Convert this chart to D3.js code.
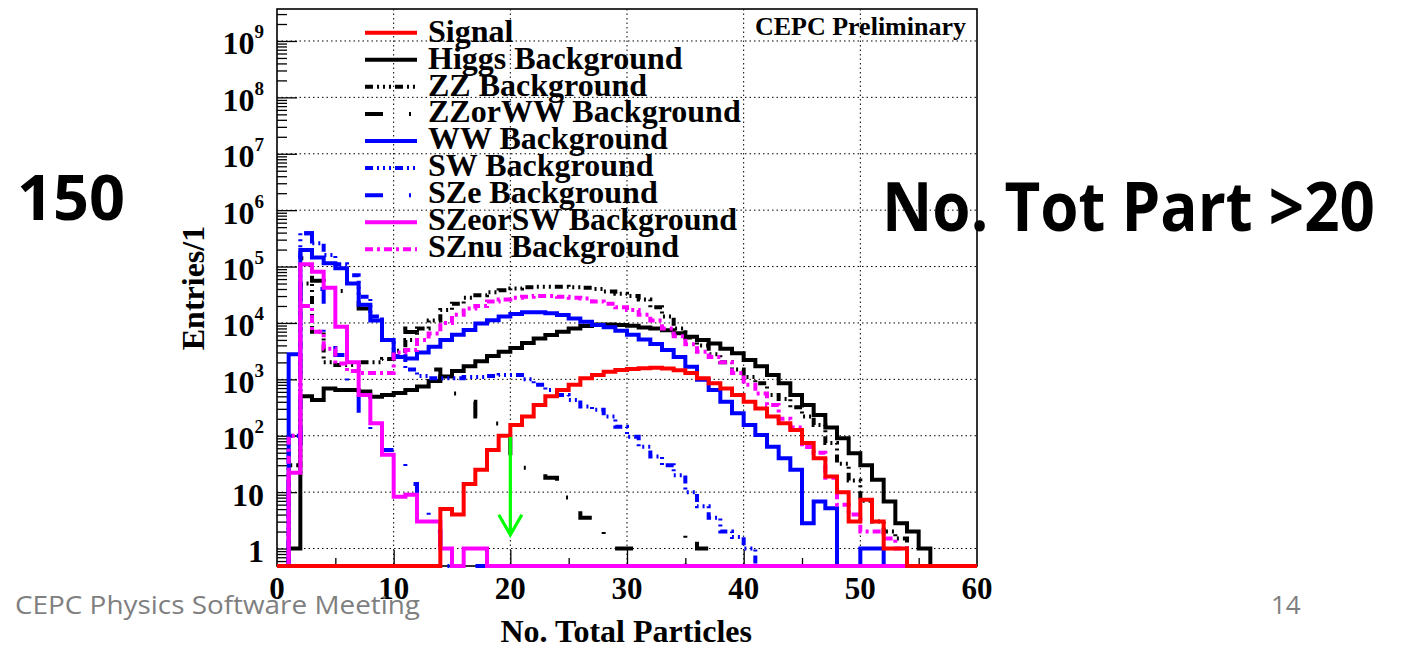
<!DOCTYPE html>
<html><head><meta charset="utf-8">
<script src="https://cdn.jsdelivr.net/npm/d3@7/dist/d3.min.js"></script>
<style>html,body{margin:0;padding:0;background:#fff;} svg{display:block;}</style>
</head><body>
<svg id="c" width="1409" height="649"></svg>
<script>
// ---------------- data (bin contents, bins of width 1 from 0 to 60) ----------------
const binEdges = d3.range(0, 61);
const signal   = [0,0,0,0,0,0,0,0,0,0,0,0,0,0,5,4,14,25,56,100,155,220,350,500,650,800,1050,1200,1370,1470,1520,1580,1600,1550,1450,1290,1050,850,690,530,400,305,220,166,126,74,40,19,10,3,7.3,3,1,1,0,0,0,0,0,0];
const higgs    = [0,1,500,430,690,650,650,610,490,530,570,650,750,930,1120,1400,1700,2100,2600,3100,3600,4400,5300,6100,7000,8000,8800,9400,9400,9200,8900,8300,8000,7400,6600,5700,5000,4300,3500,2900,2200,1700,1200,850,530,350,233,140,90,49,30,16.5,6.8,2.8,2,1,0,0,0,0];
const zz       = [0,30,50000,7000,2000,1800,1800,2000,2000,2300,3200,5000,8000,11000,17000,22000,28000,31000,35000,38000,41000,43000,44000,44000,44000,43000,42000,40000,36000,33000,30000,26000,19000,13000,8000,5500,4000,2800,2000,1500,1100,850,530,450,320,220,155,74,32,16,7,3,2,1.5,0,0,0,0,0,0];
const zzorww   = [0,20,140000,56000,37000,37000,25000,18000,16000,10000,8000,6900,3500,1500,800,560,400,220,165,110,40,27,27,18,8,6,3.5,2.2,1,1,1,0,0,0,0,2,1,0,0,0,0,0,0,0,0,0,0,0,0,0,0,0,0,0,0,0,0,0,0,0];
const ww       = [0,2800,196000,145000,114000,93000,50000,21000,11000,5000,2500,2350,3000,3800,5000,6150,7500,9800,11200,13000,14400,15500,15500,14800,13800,12000,10500,9200,8400,7300,6150,5100,4250,3300,2500,1670,980,650,400,250,155,103,64,40,25,2.8,6.8,5.2,0,0,1,1,0,0,0,0,0,0,0,0];
const sw       = [0,100,390000,260000,160000,110000,70000,29000,13000,5000,2600,1500,1150,1050,1050,1050,1100,1100,1150,1200,1200,1000,800,650,530,430,330,290,220,145,96,64,43,30,20,10,5.6,3.5,2,1.6,1,0,0,0,0,0,0,0,0,0,0,0,0,0,0,0,0,0,0,0];
const sze      = [0,60,390000,40000,6600,2700,800,220,96,56,40,14,4.8,2,0,0,0,0,0,0,0,0,0,0,0,0,0,0,0,0,0,0,0,0,0,0,0,0,0,0,0,0,0,0,0,0,0,0,0,0,0,0,0,0,0,0,0,0,0,0];
const szeorsw  = [0,22,110000,81000,42000,8600,2000,530,166,46,8.3,9,3,3,1,0,1,1,0,0,0,0,0,0,0,0,0,0,0,0,0,0,0,0,0,0,0,0,0,0,0,0,0,0,0,0,0,0,0,0,0,0,0,0,0,0,0,0,0,0];
const sznu     = [0,100,20000,7000,3500,1900,1400,1300,1300,1300,3000,3300,5000,6500,10000,14000,18000,20000,24000,26000,28000,29000,30000,30000,29000,28000,27000,24000,22000,19000,17000,14000,11000,8000,5800,4200,3100,2500,2000,1300,800,560,350,200,140,63,50,18,6,4,2,2,1.5,1,0,0,0,0,0,0];

const legendLabels = ["Signal","Higgs Background","ZZ Background","ZZorWW Background","WW Background","SW Background","SZe Background","SZeorSW Background","SZnu Background"];
const xTickValues = [0,10,20,30,40,50,60];
const xMinorTicks = [5,15,25,35,45,55];
const yDecades = d3.range(0, 10).map(k => Math.pow(10, k));
const cutValue = 20;
const arrowRange = [95, 1.75];

// ---------------- styles ----------------
const styleOf = {
  "Signal":             {values: signal,  color: "#ff0000", dash: null},
  "Higgs Background":   {values: higgs,   color: "#000000", dash: null},
  "ZZ Background":      {values: zz,      color: "#000000", dash: "8,4,2,4,2,4,2,4"},
  "ZZorWW Background":  {values: zzorww,  color: "#000000", dash: "18,26,2,26"},
  "WW Background":      {values: ww,      color: "#0000ff", dash: null},
  "SW Background":      {values: sw,      color: "#0000ff", dash: "8,4,2,4,2,4,2,4"},
  "SZe Background":     {values: sze,     color: "#0000ff", dash: "18,26,2,26"},
  "SZeorSW Background": {values: szeorsw, color: "#ff00ff", dash: null},
  "SZnu Background":    {values: sznu,    color: "#ff00ff", dash: "8,4,3,4"}
};
const drawOrder = ["Higgs Background","ZZ Background","ZZorWW Background","WW Background","SW Background","SZe Background","SZnu Background","SZeorSW Background","Signal"];

const svg = d3.select("#c");
svg.append("rect").attr("width",1409).attr("height",649).attr("fill","#fff");

const L = 277, R = 977, T = 9, B = 566;
const x = d3.scaleLinear().domain([0,60]).range([L,R]);
const yMin = 0.49, yMax = 3.69e9;
const y = d3.scaleLog().domain([yMin,yMax]).range([B,T]);
const yc = v => y(Math.max(v, yMin));

const serif = "'Liberation Serif','Times New Roman',serif";

// grid
const grid = svg.append("g").attr("stroke","#000").attr("stroke-width",1).attr("stroke-dasharray","1.5,3");
grid.selectAll("line.gx").data([10,20,30,40,50]).join("line")
  .attr("x1",d=>x(d)).attr("x2",d=>x(d)).attr("y1",T).attr("y2",B);
grid.selectAll("line.gy").data(yDecades).join("line")
  .attr("x1",L).attr("x2",R).attr("y1",d=>y(d)).attr("y2",d=>y(d));

// frame
svg.append("rect").attr("x",L).attr("y",T).attr("width",R-L).attr("height",B-T)
  .attr("fill","none").attr("stroke","#000").attr("stroke-width",1.6);

// axes ticks (inward)
const yMinor = [];
for (let k = -1; k <= 9; k++) for (let m = 2; m <= 9; m++) { const v = m*Math.pow(10,k); if (v>yMin && v<yMax) yMinor.push(v); }
function styleAxis(g){ g.select(".domain").remove(); g.selectAll(".tick line").attr("stroke","#000").attr("stroke-width",1.3); }
svg.append("g").attr("transform",`translate(${L},0)`).call(d3.axisLeft(y).tickValues(yDecades).tickSize(-20).tickFormat("")).call(styleAxis);
svg.append("g").attr("transform",`translate(${L},0)`).call(d3.axisLeft(y).tickValues(yMinor).tickSize(-10).tickFormat("")).call(styleAxis);
svg.append("g").attr("transform",`translate(0,${B})`).call(d3.axisBottom(x).tickValues(xTickValues.slice(1,-1)).tickSize(-16).tickFormat("")).call(styleAxis);
svg.append("g").attr("transform",`translate(0,${B})`).call(d3.axisBottom(x).tickValues(xMinorTicks).tickSize(-8).tickFormat("")).call(styleAxis);

// histograms
function stepPath(vals){
  let d = `M${x(binEdges[0])},${yc(vals[0])}`;
  for (let i = 0; i < vals.length; i++) {
    d += `H${x(binEdges[i+1])}`;
    if (i < vals.length-1) d += `V${yc(vals[i+1])}`;
  }
  return d;
}
const hg = svg.append("g").attr("fill","none");
drawOrder.forEach(name => {
  const s = styleOf[name];
  hg.append("path").attr("d", stepPath(s.values)).attr("stroke", s.color)
    .attr("stroke-width", 4).attr("stroke-dasharray", s.dash).attr("stroke-linejoin","miter").attr("stroke-linecap","butt");
});

// cut arrow
const ax = x(cutValue), ay0 = y(arrowRange[0]), ay1 = y(arrowRange[1]);
const ag = svg.append("g").attr("stroke","#00ff00").attr("stroke-width",3.2).attr("fill","none");
ag.append("line").attr("x1",ax).attr("x2",ax).attr("y1",ay0).attr("y2",ay1);
ag.append("path").attr("d",`M${ax-11.5},${ay1-20}L${ax},${ay1}L${ax+11.5},${ay1-20}`);

// tick labels
svg.append("g").selectAll("text").data(xTickValues).join("text")
  .attr("x",d=>x(d)).attr("y",599).attr("text-anchor","middle")
  .attr("font-family",serif).attr("font-weight","bold").attr("font-size",31).text(d=>d);
const yl = svg.append("g").attr("font-family",serif).attr("font-weight","bold");
yDecades.forEach(v => {
  const k = Math.round(Math.log10(v));
  const t = yl.append("text").attr("x",264).attr("y",y(v)+13.5).attr("text-anchor","end").attr("font-size",32);
  if (k === 0) t.text("1");
  else if (k === 1) t.text("10");
  else { t.append("tspan").text("10"); t.append("tspan").attr("font-size",19).attr("dy",-16).text(k); }
});

// axis titles
svg.append("text").attr("x",752).attr("y",642).attr("text-anchor","end")
  .attr("font-family",serif).attr("font-weight","bold").attr("font-size",32).text("No. Total Particles");
svg.append("text").attr("transform","translate(204,288) rotate(-90)").attr("text-anchor","middle")
  .attr("font-family",serif).attr("font-weight","bold").attr("font-size",32).text("Entries/1");

// legend
const lg = svg.append("g");
legendLabels.forEach((name,i) => {
  const s = styleOf[name];
  const ly = 32.7 + 27.08*i;
  lg.append("line").attr("x1",365).attr("x2",417).attr("y1",ly).attr("y2",ly)
    .attr("stroke",s.color).attr("stroke-width",4).attr("stroke-dasharray",s.dash);
  lg.append("text").attr("x",428).attr("y",41.7+26.9*i).attr("font-family",serif)
    .attr("font-weight","bold").attr("font-size",32).text(name);
});
svg.append("text").attr("x",966).attr("y",35).attr("text-anchor","end").attr("font-family",serif)
  .attr("font-weight","bold").attr("font-size",26).text("CEPC Preliminary");

// slide texts
const sans = "'Open Sans','Noto Sans',sans-serif";
svg.append("text").attr("x",17).attr("y",220).attr("font-family",sans).attr("font-weight","bold")
  .attr("font-size",63).text("150");
svg.append("text").attr("x",882).attr("y",231).attr("font-family",sans).attr("font-weight","bold")
  .attr("font-size",68).attr("textLength",493).attr("lengthAdjust","spacingAndGlyphs").text("No. Tot Part >20");
svg.append("text").attr("x",15).attr("y",614).attr("font-family",sans).attr("fill","#7f7f7f")
  .attr("font-size",26).attr("textLength",405).attr("lengthAdjust","spacingAndGlyphs").text("CEPC Physics Software Meeting");
svg.append("text").attr("x",1271).attr("y",614).attr("font-family",sans).attr("fill","#7f7f7f")
  .attr("font-size",26).text("14");
</script>
</body></html>
